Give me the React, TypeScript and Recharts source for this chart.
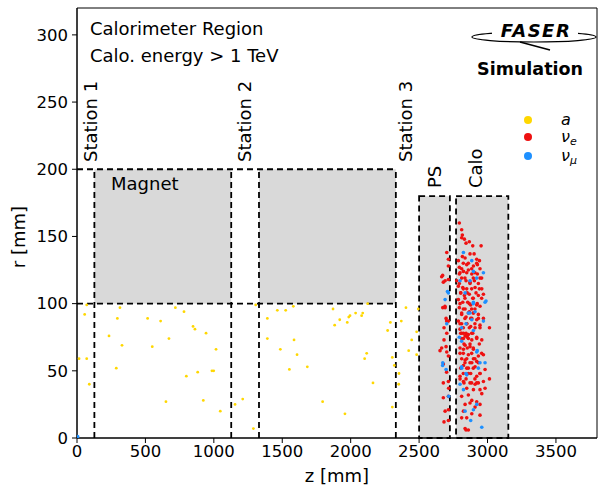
import React from 'react'
import { ScatterChart, Scatter, XAxis, YAxis, ReferenceArea, ReferenceLine } from 'recharts'

type Pt = { z: number; r: number }

const xTicks = [0, 500, 1000, 1500, 2000, 2500, 3000, 3500]
const yTicks = [0, 50, 100, 150, 200, 250, 300]

// detector volumes (z from / to, r from / to) in mm
const magnets = [
  { z1: 127, z2: 1127 },
  { z1: 1330, z2: 2330 },
]
const preshower = { z1: 2500, z2: 2725, r: 180 }
const calo = { z1: 2770, z2: 3152, r: 180 }

// ALP vertices (yellow)
const axionPoints: Pt[] = [
  { z: 71, r: 99 }, { z: 56, r: 92 }, { z: 15, r: 59 }, { z: 71, r: 59 }, { z: 90, r: 40 },
  { z: 314, r: 97 }, { z: 295, r: 89 }, { z: 234, r: 76 }, { z: 329, r: 69 }, { z: 287, r: 52 },
  { z: 516, r: 89 }, { z: 611, r: 87 }, { z: 550, r: 68 }, { z: 672, r: 74 }, { z: 719, r: 97 },
  { z: 782, r: 94 }, { z: 848, r: 83 }, { z: 862, r: 81 }, { z: 943, r: 78 }, { z: 1016, r: 66 },
  { z: 799, r: 46 }, { z: 882, r: 49 }, { z: 986, r: 50 }, { z: 999, r: 50 }, { z: 650, r: 27 },
  { z: 923, r: 28 }, { z: 1047, r: 20 }, { z: 1155, r: 25 }, { z: 1211, r: 29 }, { z: 1306, r: 99 },
  { z: 1289, r: 7 }, { z: 1391, r: 89 }, { z: 1391, r: 74 }, { z: 1464, r: 95 }, { z: 1525, r: 95 },
  { z: 1581, r: 98 }, { z: 1586, r: 73 }, { z: 1486, r: 66 }, { z: 1608, r: 62 }, { z: 1552, r: 51 },
  { z: 1683, r: 53 }, { z: 1795, r: 27 }, { z: 1958, r: 18 }, { z: 1871, r: 96 }, { z: 1920, r: 88 },
  { z: 1883, r: 84 }, { z: 1975, r: 86 }, { z: 1986, r: 90 }, { z: 1995, r: 91 }, { z: 2036, r: 93 },
  { z: 2080, r: 91 }, { z: 2088, r: 93 }, { z: 2124, r: 100 }, { z: 2117, r: 63 }, { z: 2102, r: 59 },
  { z: 2163, r: 41 }, { z: 2304, r: 60 }, { z: 2319, r: 54 }, { z: 2270, r: 80 }, { z: 2290, r: 86 },
  { z: 2304, r: 23 }, { z: 2353, r: 48 }, { z: 2351, r: 40 }, { z: 2404, r: 97 }, { z: 2370, r: 87 },
  { z: 2494, r: 96 }, { z: 2482, r: 79 }, { z: 2446, r: 73 }, { z: 2424, r: 65 }, { z: 2482, r: 62 },
]

// nu_e vertices (red)
const nuEPoints: Pt[] = [
  { z: 2794, r: 160 }, { z: 2811, r: 155 },
  { z: 2816, r: 151 }, { z: 2831, r: 148 }, { z: 2811, r: 149 }, { z: 2843, r: 145 }, { z: 2867, r: 146 },
  { z: 2892, r: 143 }, { z: 2953, r: 143 }, { z: 2902, r: 137 }, { z: 2872, r: 137 }, { z: 2816, r: 135 },
  { z: 2836, r: 134 }, { z: 2921, r: 133 }, { z: 2941, r: 132 }, { z: 2926, r: 129 }, { z: 2787, r: 132 },
  { z: 2702, r: 138 }, { z: 2714, r: 133 }, { z: 2714, r: 128 }, { z: 2794, r: 127 }, { z: 2848, r: 129 },
  { z: 2897, r: 128 }, { z: 2824, r: 124 }, { z: 2860, r: 125 }, { z: 2885, r: 122 }, { z: 2926, r: 122 },
  { z: 2794, r: 122 }, { z: 2811, r: 119 }, { z: 2843, r: 117 }, { z: 2872, r: 116 }, { z: 2904, r: 117 },
  { z: 2945, r: 119 }, { z: 2665, r: 120 }, { z: 2677, r: 116 }, { z: 2690, r: 117 }, { z: 2714, r: 118 },
  { z: 2775, r: 117 }, { z: 2787, r: 113 }, { z: 2819, r: 112 }, { z: 2848, r: 111 }, { z: 2909, r: 112 },
  { z: 2958, r: 111 }, { z: 2804, r: 108 }, { z: 2831, r: 106 }, { z: 2867, r: 107 }, { z: 2892, r: 104 },
  { z: 2933, r: 106 }, { z: 2970, r: 107 }, { z: 2787, r: 103 }, { z: 2819, r: 101 }, { z: 2855, r: 101 },
  { z: 2877, r: 99 }, { z: 2921, r: 99 }, { z: 2945, r: 98 }, { z: 2794, r: 97 }, { z: 2836, r: 96 },
  { z: 2867, r: 94 }, { z: 2897, r: 93 }, { z: 2933, r: 92 }, { z: 2673, r: 97 }, { z: 2690, r: 97 },
  { z: 2811, r: 92 }, { z: 2843, r: 90 }, { z: 2885, r: 89 }, { z: 2921, r: 88 }, { z: 2970, r: 89 },
  { z: 2697, r: 89 }, { z: 2714, r: 87 }, { z: 2787, r: 87 }, { z: 2811, r: 85 }, { z: 2848, r: 85 },
  { z: 2877, r: 83 }, { z: 2909, r: 82 }, { z: 2945, r: 84 }, { z: 3014, r: 82 }, { z: 2799, r: 81 },
  { z: 2824, r: 78 }, { z: 2860, r: 77 }, { z: 2892, r: 78 }, { z: 2682, r: 82 }, { z: 2702, r: 78 },
  { z: 2836, r: 76 }, { z: 2853, r: 75 },
  { z: 2665, r: 67 }, { z: 2702, r: 64 }, { z: 2714, r: 61 }, { z: 2811, r: 78 }, { z: 2824, r: 74 },
  { z: 2848, r: 77 }, { z: 2885, r: 73 }, { z: 2921, r: 75 }, { z: 2958, r: 73 }, { z: 2836, r: 69 },
  { z: 2872, r: 68 }, { z: 2897, r: 66 }, { z: 2824, r: 66 }, { z: 2799, r: 63 }, { z: 2860, r: 62 },
  { z: 2836, r: 58 }, { z: 2897, r: 59 }, { z: 2921, r: 57 }, { z: 2933, r: 61 }, { z: 2970, r: 62 },
  { z: 2824, r: 54 }, { z: 2848, r: 52 }, { z: 2885, r: 56 }, { z: 2909, r: 53 }, { z: 2860, r: 48 },
  { z: 2799, r: 46 }, { z: 2921, r: 46 }, { z: 2945, r: 48 }, { z: 2982, r: 51 }, { z: 3014, r: 44 },
  { z: 2677, r: 41 }, { z: 2714, r: 42 }, { z: 2824, r: 42 }, { z: 2872, r: 41 }, { z: 2909, r: 40 },
  { z: 2933, r: 41 }, { z: 2970, r: 42 }, { z: 2848, r: 37 }, { z: 2897, r: 36 }, { z: 2945, r: 36 },
  { z: 2982, r: 37 }, { z: 2958, r: 33 }, { z: 2716, r: 37 }, { z: 2677, r: 30 }, { z: 2714, r: 31 },
  { z: 2811, r: 31 }, { z: 2860, r: 32 }, { z: 2885, r: 28 }, { z: 2921, r: 27 }, { z: 2836, r: 25 },
  { z: 2872, r: 26 }, { z: 2909, r: 23 }, { z: 2945, r: 25 }, { z: 2690, r: 20 }, { z: 2714, r: 21 },
  { z: 2824, r: 20 }, { z: 2885, r: 18 }, { z: 2811, r: 15 }, { z: 2848, r: 15 }, { z: 2682, r: 12 },
  { z: 2714, r: 13 }, { z: 2945, r: 17 }, { z: 2836, r: 7 }, { z: 2860, r: 6 }, { z: 2843, r: 6 },
  // dense core
  { z: 2823, r: 130 }, { z: 2860, r: 130 }, { z: 2921, r: 130 }, { z: 2811, r: 126 }, { z: 2884, r: 126 },
  { z: 2945, r: 126 }, { z: 2799, r: 123 }, { z: 2848, r: 123 }, { z: 2908, r: 123 }, { z: 2835, r: 119 },
  { z: 2896, r: 119 }, { z: 2957, r: 119 }, { z: 2794, r: 115 }, { z: 2872, r: 115 }, { z: 2933, r: 115 },
  { z: 2823, r: 111 }, { z: 2884, r: 111 }, { z: 2940, r: 111 }, { z: 2804, r: 108 }, { z: 2852, r: 108 },
  { z: 2916, r: 108 }, { z: 2835, r: 104 }, { z: 2896, r: 104 }, { z: 2957, r: 104 }, { z: 2799, r: 100 },
  { z: 2867, r: 100 }, { z: 2925, r: 100 }, { z: 2823, r: 96 }, { z: 2884, r: 96 }, { z: 2908, r: 96 },
  { z: 2811, r: 93 }, { z: 2860, r: 93 }, { z: 2896, r: 93 }, { z: 2835, r: 89 }, { z: 2877, r: 89 },
  { z: 2933, r: 89 }, { z: 2799, r: 85 }, { z: 2848, r: 85 }, { z: 2908, r: 85 }, { z: 2823, r: 82 },
  { z: 2867, r: 82 }, { z: 2945, r: 82 }, { z: 2804, r: 78 }, { z: 2843, r: 78 }, { z: 2884, r: 78 },
  { z: 2811, r: 74 }, { z: 2860, r: 74 }, { z: 2921, r: 74 }, { z: 2828, r: 70 }, { z: 2872, r: 70 },
  { z: 2940, r: 70 }, { z: 2799, r: 67 }, { z: 2852, r: 67 }, { z: 2896, r: 67 }, { z: 2823, r: 63 },
  { z: 2884, r: 63 }, { z: 2957, r: 63 }, { z: 2811, r: 59 }, { z: 2848, r: 59 }, { z: 2908, r: 59 },
  { z: 2835, r: 56 }, { z: 2872, r: 56 }, { z: 2933, r: 56 }, { z: 2804, r: 52 }, { z: 2860, r: 52 },
  { z: 2896, r: 52 }, { z: 2823, r: 48 }, { z: 2877, r: 48 }, { z: 2945, r: 48 }, { z: 2799, r: 44 },
  { z: 2843, r: 44 }, { z: 2908, r: 44 }, { z: 2828, r: 41 }, { z: 2884, r: 41 }, { z: 2921, r: 41 },
  { z: 2672, r: 121 }, { z: 2689, r: 98 }, { z: 2701, r: 87 }, { z: 2682, r: 73 }, { z: 2697, r: 68 },
  { z: 2677, r: 55 }, { z: 2701, r: 49 }, { z: 2653, r: 65 },
]

// nu_mu vertices (blue)
const nuMuPoints: Pt[] = [
  { z: 5, r: 1 },
  { z: 2824, r: 138 }, { z: 2885, r: 132 }, { z: 2799, r: 117 }, { z: 2872, r: 117 }, { z: 2897, r: 124 },
  { z: 2921, r: 119 }, { z: 2970, r: 123 }, { z: 2836, r: 108 }, { z: 2897, r: 101 }, { z: 2989, r: 102 },
  { z: 2707, r: 109 }, { z: 2909, r: 94 }, { z: 2860, r: 93 }, { z: 2885, r: 88 }, { z: 2970, r: 87 },
  { z: 2702, r: 85 }, { z: 2811, r: 82 }, { z: 2897, r: 80 }, { z: 2690, r: 103 }, { z: 2843, r: 85 },
  { z: 2794, r: 75 }, { z: 2811, r: 72 }, { z: 2921, r: 64 }, { z: 2945, r: 56 }, { z: 2982, r: 56 },
  { z: 2673, r: 56 }, { z: 2811, r: 52 }, { z: 2843, r: 48 }, { z: 2933, r: 52 }, { z: 2799, r: 40 },
  { z: 2824, r: 36 }, { z: 2716, r: 31 }, { z: 2921, r: 25 }, { z: 2836, r: 20 }, { z: 2877, r: 13 },
  { z: 2958, r: 8 }, { z: 2897, r: 21 }, { z: 2697, r: 51 },
  { z: 2714, r: 108 }, { z: 2896, r: 100 }, { z: 2982, r: 101 }, { z: 2872, r: 93 }, { z: 2925, r: 65 },
  { z: 2672, r: 54 }, { z: 2811, r: 53 }, { z: 2848, r: 47 },
]

const FONT = 'DejaVu Sans'
const GREY = '#d9d9d9'

const dot = (color: string, size: number) => (p: any) =>
  <circle cx={p.cx} cy={p.cy} r={size} fill={color} />

const dashed = { stroke: '#000', strokeWidth: 1.8, strokeDasharray: '6 4' }

export default function App() {
  const tick = { fontSize: 16.5, fill: '#000', fontFamily: FONT }
  return (
    <div style={{ position: 'fixed', left: 0, top: 0, width: 599, height: 488, background: '#fff' }}>
      <ScatterChart width={599} height={488} margin={{ top: 8, right: 2, left: 0, bottom: 0 }}>
        <XAxis
          type="number"
          dataKey="z"
          domain={[0, 3800]}
          ticks={xTicks}
          allowDataOverflow
          tick={tick}
          tickSize={5}
          tickMargin={2}
          height={50}
          stroke="#000"
        />
        <YAxis
          type="number"
          dataKey="r"
          domain={[0, 320]}
          ticks={yTicks}
          allowDataOverflow
          tick={tick}
          tickSize={5}
          tickMargin={4}
          width={77}
          stroke="#000"
        />
        {magnets.map((m, i) => (
          <ReferenceArea key={'m' + i} x1={m.z1} x2={m.z2} y1={100} y2={200} fill={GREY} fillOpacity={1} stroke="none" />
        ))}
        <ReferenceArea x1={preshower.z1} x2={preshower.z2} y1={0} y2={preshower.r} fill={GREY} fillOpacity={1} {...dashed} />
        <ReferenceArea x1={calo.z1} x2={calo.z2} y1={0} y2={calo.r} fill={GREY} fillOpacity={1} {...dashed} />
        <ReferenceLine segment={[{ x: 0, y: 200 }, { x: 2330, y: 200 }]} {...dashed} />
        <ReferenceLine segment={[{ x: 0, y: 100 }, { x: 2330, y: 100 }]} {...dashed} />
        {magnets.flatMap((m, i) => [
          <ReferenceLine key={'a' + i} segment={[{ x: m.z1, y: 0 }, { x: m.z1, y: 200 }]} {...dashed} />,
          <ReferenceLine key={'b' + i} segment={[{ x: m.z2, y: 0 }, { x: m.z2, y: 200 }]} {...dashed} />,
        ])}
        <ReferenceArea x1={0} x2={3800} y1={0} y2={320} fill="none" stroke="#000" strokeWidth={1} />
        <Scatter name="a" data={axionPoints} shape={dot('#ffd700', 1.4)} isAnimationActive={false} />
        <Scatter name="nu_e" data={nuEPoints} shape={dot('#ee1111', 1.8)} isAnimationActive={false} />
        <Scatter name="nu_mu" data={nuMuPoints} shape={dot('#1e90ff', 1.8)} isAnimationActive={false} />
      </ScatterChart>
      <svg width={599} height={488} style={{ position: 'absolute', left: 0, top: 0, pointerEvents: 'none' }} fontFamily={FONT}>
        <text x={90} y={35} fontSize={18}>Calorimeter Region</text>
        <text x={90} y={62} fontSize={18}>Calo. energy &gt; 1 TeV</text>
        <text x={111} y={190} fontSize={18}>Magnet</text>
        <text transform="translate(97,162) rotate(-90)" fontSize={18}>Station 1</text>
        <text transform="translate(251,162) rotate(-90)" fontSize={18}>Station 2</text>
        <text transform="translate(412,162) rotate(-90)" fontSize={18}>Station 3</text>
        <text transform="translate(441,188) rotate(-90)" fontSize={18}>PS</text>
        <text transform="translate(482,188) rotate(-90)" fontSize={18}>Calo</text>
        <text transform="translate(25,237) rotate(-90)" fontSize={18} textAnchor="middle">r [mm]</text>
        <text x={337} y={482} fontSize={18} textAnchor="middle">z [mm]</text>
        {/* FASER logo */}
        <ellipse cx={534} cy={37} rx={62} ry={5} fill="none" stroke="#000" strokeWidth={1.2} />
        <rect x={492} y={22} width={86} height={14} fill="#fff" />
        <text x={536} y={37} fontSize={18} fontWeight="bold" fontStyle="italic" textAnchor="middle" letterSpacing={1.5}>FASER</text>
        <path d="M520 42 L550 50" stroke="#000" strokeWidth={1.4} />
        <text x={583} y={75} fontSize={17.5} fontWeight="bold" textAnchor="end">Simulation</text>
        {/* legend */}
        <circle cx={528} cy={120} r={4} fill="#ffd700" />
        <circle cx={528} cy={137} r={4} fill="#ee1111" />
        <circle cx={528} cy={156} r={4} fill="#1e90ff" />
        <text x={561} y={125} fontSize={16} fontStyle="italic">a</text>
        <text x={561} y={142} fontSize={16} fontStyle="italic">ν<tspan fontSize={11} dy={3}>e</tspan></text>
        <text x={561} y={161} fontSize={16} fontStyle="italic">ν<tspan fontSize={11} dy={3}>μ</tspan></text>
      </svg>
    </div>
  )
}
